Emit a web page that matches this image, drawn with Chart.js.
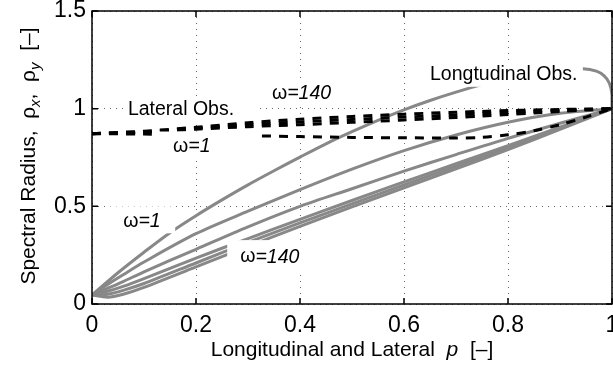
<!DOCTYPE html>
<html>
<head>
<meta charset="utf-8">
<script src="https://cdn.jsdelivr.net/npm/chart.js@4"></script>
<style>
html, body { margin: 0; padding: 0; background: #fff; }
#wrap { position: relative; width: 613px; height: 366px; }
</style>
</head>
<body>
<div id="wrap"><canvas id="chart" width="613" height="366"></canvas></div>
<script>
// p values shared by most grey curves
const pGrid = [0, 0.03, 0.06, 0.1, 0.2, 0.3, 0.4, 0.5, 0.6, 0.7, 0.8, 0.9, 1]

// longitudinal observer, grey (the top one bends back down at p = 1)
const pTop = [0, 0.05, 0.1, 0.15, 0.2, 0.25, 0.3, 0.35, 0.4, 0.45, 0.5, 0.55, 0.6, 0.65, 0.7, 0.75, 0.8, 0.85, 0.9, 0.944, 0.97, 0.985, 0.995, 1, 1]
const rhoTop = [0.046, 0.16, 0.265, 0.365, 0.452, 0.533, 0.61, 0.682, 0.752, 0.82, 0.882, 0.94, 0.994, 1.042, 1.085, 1.123, 1.155, 1.18, 1.198, 1.204, 1.192, 1.168, 1.13, 1.07, 1.0]
const rhoLongB = [0.046, 0.1, 0.15, 0.215, 0.36, 0.475, 0.585, 0.69, 0.785, 0.865, 0.93, 0.976, 1.0]
const rhoLongC = [0.046, 0.08, 0.115, 0.165, 0.28, 0.395, 0.5, 0.59, 0.68, 0.765, 0.848, 0.925, 1.0]
const rhoLongD = [0.046, 0.065, 0.09, 0.13, 0.235, 0.335, 0.433, 0.53, 0.625, 0.718, 0.81, 0.905, 1.0]
const rhoLongE = [0.046, 0.05, 0.07, 0.105, 0.21, 0.315, 0.415, 0.513, 0.61, 0.705, 0.8, 0.9, 1.0]
const rhoLongF = [0.046, 0.035, 0.05, 0.085, 0.19, 0.295, 0.397, 0.497, 0.595, 0.692, 0.79, 0.894, 1.0]

// lateral observer, black dashed
const pLat = [0, 0.1, 0.2, 0.3, 0.4, 0.5, 0.6, 0.7, 0.75, 0.8, 0.85, 0.9, 0.95, 1]
const rhoLatW1 = [0.872, 0.87, 0.867, 0.862, 0.857, 0.853, 0.851, 0.85, 0.853, 0.866, 0.887, 0.918, 0.957, 1.0]
const rhoLatA = [0.872, 0.885, 0.905, 0.928, 0.946, 0.96, 0.972, 0.982, 0.986, 0.99, 0.993, 0.996, 0.998, 1.0]
const rhoLatB = [0.872, 0.882, 0.9, 0.918, 0.932, 0.945, 0.957, 0.968, 0.974, 0.98, 0.986, 0.991, 0.996, 1.0]
const rhoLatC = [0.872, 0.879, 0.895, 0.908, 0.918, 0.93, 0.942, 0.955, 0.962, 0.97, 0.978, 0.986, 0.993, 1.0]

// ticks
const xTicks = [0, 0.2, 0.4, 0.6, 0.8, 1]
const yTicks = [0, 0.5, 1, 1.5]

const FONT = '"Liberation Sans", Arial, Helvetica, sans-serif'
const GREY = '#888888'
const DASH = [9, 8]

// text notes on the plot, each with a white box behind it: [p0, p1, rho0, rho1]
const notes = [
	{ runs: [['Lateral Obs.', '']], at: [0.069, 0.995], box: [0.06, 0.317, 0.939, 1.056] },
	{ runs: [['ω', ''], ['=1', 'italic ']], at: [0.156, 0.806], box: [0.127, 0.317, 0.735, 0.883] },
	{ runs: [['ω', ''], ['=140', 'italic ']], at: [0.346, 1.077], box: [0.321, 0.477, 1.01, 1.153] },
	{ runs: [['Longtudinal Obs.', '']], at: [0.65, 1.173], box: [0.631, 0.944, 1.112, 1.235] },
	{ runs: [['ω', ''], ['=1', 'italic ']], at: [0.06, 0.423], box: [0.035, 0.16, 0.362, 0.5] },
	{ runs: [['ω', ''], ['=140', 'italic ']], at: [0.285, 0.24], box: [0.26, 0.438, 0.163, 0.327] },
]

function pts(xs, ys) {
	return xs.map((x, i) => ({ x: x, y: ys[i] }))
}

function line(label, xs, ys, color, dash) {
	return {
		label: label,
		data: pts(xs, ys),
		showLine: true,
		pointRadius: 0,
		borderColor: color,
		backgroundColor: color,
		borderWidth: 3,
		borderDash: dash || [],
		tension: 0.3,
		fill: false,
	}
}

// lateral first so it is painted on top
const datasets = [
	line('lateral w=1', pLat, rhoLatW1, '#000', DASH),
	line('lateral a', pLat, rhoLatA, '#000', DASH),
	line('lateral b', pLat, rhoLatB, '#000', DASH),
	line('lateral c', pLat, rhoLatC, '#000', DASH),
	line('longitudinal top', pTop, rhoTop, GREY),
	line('longitudinal b', pGrid, rhoLongB, GREY),
	line('longitudinal c', pGrid, rhoLongC, GREY),
	line('longitudinal d', pGrid, rhoLongD, GREY),
	line('longitudinal e', pGrid, rhoLongE, GREY),
	line('longitudinal f', pGrid, rhoLongF, GREY),
]

// draws a row of text pieces: [text, style, size, dy]
function drawRuns(ctx, runs, x, y, size, center) {
	let total = 0
	runs.forEach((r) => {
		ctx.font = `${r[1]}${r[2] || size}px ${FONT}`
		total += ctx.measureText(r[0]).width
	})
	let cx = center ? x - total / 2 : x
	runs.forEach((r) => {
		ctx.font = `${r[1]}${r[2] || size}px ${FONT}`
		ctx.fillText(r[0], cx, y + (r[3] || 0))
		cx += ctx.measureText(r[0]).width
	})
}

const notesPlugin = {
	id: 'notes',
	afterDatasetsDraw(chart) {
		const ctx = chart.ctx
		const xs = chart.scales.x
		const ys = chart.scales.y
		ctx.save()
		notes.forEach((n) => {
			const x0 = xs.getPixelForValue(n.box[0])
			const x1 = xs.getPixelForValue(n.box[1])
			const y0 = ys.getPixelForValue(n.box[3])
			const y1 = ys.getPixelForValue(n.box[2])
			ctx.fillStyle = '#fff'
			ctx.fillRect(x0, y0, x1 - x0, y1 - y0)
			ctx.fillStyle = '#000'
			ctx.textBaseline = 'middle'
			ctx.textAlign = 'left'
			drawRuns(ctx, n.runs, xs.getPixelForValue(n.at[0]), ys.getPixelForValue(n.at[1]), 19.5, false)
		})
		ctx.restore()
	},
}

const framePlugin = {
	id: 'frame',
	afterDraw(chart) {
		const ctx = chart.ctx
		const a = chart.chartArea
		const xs = chart.scales.x
		const ys = chart.scales.y
		ctx.save()
		ctx.strokeStyle = '#000'
		ctx.lineWidth = 1.5
		ctx.strokeRect(a.left, a.top, a.right - a.left, a.bottom - a.top)
		ctx.beginPath()
		xTicks.forEach((v) => {
			const px = xs.getPixelForValue(v)
			ctx.moveTo(px, a.bottom)
			ctx.lineTo(px, a.bottom - 6)
			ctx.moveTo(px, a.top)
			ctx.lineTo(px, a.top + 6)
		})
		yTicks.forEach((v) => {
			const py = ys.getPixelForValue(v)
			ctx.moveTo(a.left, py)
			ctx.lineTo(a.left + 6, py)
			ctx.moveTo(a.right, py)
			ctx.lineTo(a.right - 6, py)
		})
		ctx.stroke()

		// axis titles
		ctx.fillStyle = '#000'
		ctx.textBaseline = 'alphabetic'
		ctx.textAlign = 'left'
		drawRuns(ctx, [['Longitudinal and Lateral  ', ''], ['p', 'italic '], ['  [–]', '']], (a.left + a.right) / 2, 356, 21, true)

		ctx.translate(35, 156)
		ctx.rotate(-Math.PI / 2)
		drawRuns(ctx, [
			['Spectral Radius,  ρ', ''],
			['x', 'italic ', 15, 5],
			[',  ρ', ''],
			['y', 'italic ', 15, 5],
			['  [–]', ''],
		], 0, 0, 21, true)
		ctx.restore()
	},
}

function tickText(v) {
	return String(Number(v.toFixed(1)))
}

new Chart(document.getElementById('chart'), {
	type: 'scatter',
	data: { datasets: datasets },
	plugins: [notesPlugin, framePlugin],
	options: {
		responsive: false,
		animation: false,
		events: [],
		layout: { padding: { top: 11, right: 1, left: 0, bottom: 0 } },
		plugins: {
			legend: { display: false },
			tooltip: { enabled: false },
		},
		scales: {
			x: {
				type: 'linear',
				min: 0,
				max: 1,
				afterBuildTicks: (s) => { s.ticks = xTicks.map((v) => ({ value: v })) },
				ticks: {
					color: '#000',
					font: { size: 23, family: FONT },
					padding: 8,
					maxRotation: 0,
					autoSkip: false,
					callback: tickText,
				},
				grid: { color: 'rgba(0,0,0,0.6)', lineWidth: 1, drawTicks: false },
				border: { display: false, dash: [1, 5] },
				afterFit: (s) => {
					s.height = 62
					s.paddingLeft = 0
					s.paddingRight = 0
				},
			},
			y: {
				type: 'linear',
				min: 0,
				max: 1.5,
				afterBuildTicks: (s) => { s.ticks = yTicks.map((v) => ({ value: v })) },
				ticks: {
					color: '#000',
					font: { size: 23, family: FONT },
					padding: 6,
					autoSkip: false,
					callback: tickText,
				},
				grid: { color: 'rgba(0,0,0,0.6)', lineWidth: 1, drawTicks: false },
				border: { display: false, dash: [1, 5] },
				afterFit: (s) => {
					s.width = 92
					s.paddingTop = 0
					s.paddingBottom = 0
				},
			},
		},
	},
})
</script>
</body>
</html>
